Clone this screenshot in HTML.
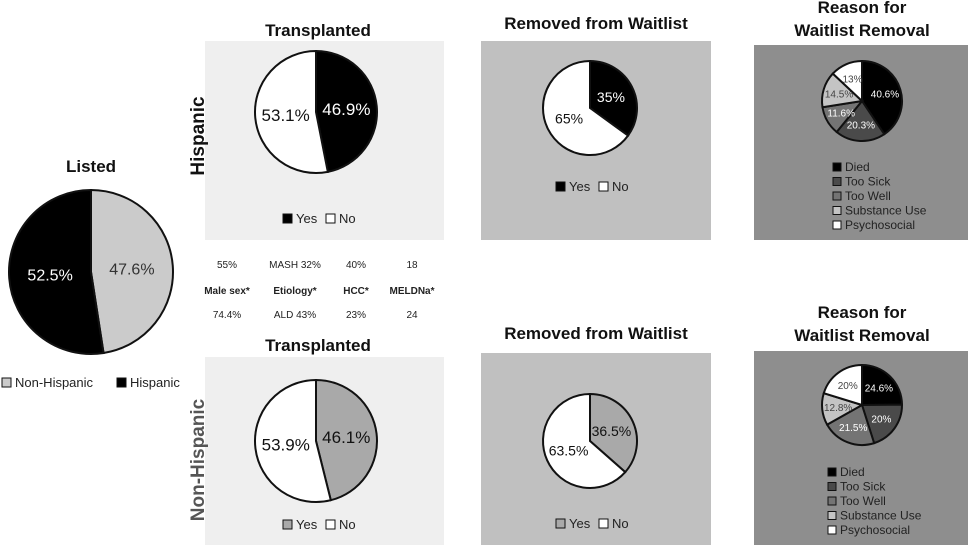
<!DOCTYPE html>
<html><head><meta charset="utf-8"><style>
body{margin:0;width:972px;height:545px;background:#fff;overflow:hidden;font-family:"Liberation Sans",sans-serif}
svg{display:block}
</style></head><body>
<svg id="c" width="972" height="545" viewBox="0 0 972 545">
<rect x="205" y="41" width="239" height="199" fill="#efefef"/>
<rect x="481" y="41" width="230" height="199" fill="#c0c0c0"/>
<rect x="754" y="45" width="214" height="195" fill="#8e8e8e"/>
<rect x="205" y="357" width="239" height="188" fill="#efefef"/>
<rect x="481" y="353" width="230" height="192" fill="#c0c0c0"/>
<rect x="754" y="351" width="214" height="194" fill="#8e8e8e"/>
<g font-weight="bold" font-size="17" text-anchor="middle" fill="#111">
<text x="91" y="172">Listed</text>
<text x="318" y="36">Transplanted</text>
<text x="596" y="29">Removed from Waitlist</text>
<text x="862" y="13">Reason for</text>
<text x="862" y="36">Waitlist Removal</text>
<text x="318" y="351">Transplanted</text>
<text x="596" y="339">Removed from Waitlist</text>
<text x="862" y="318">Reason for</text>
<text x="862" y="341">Waitlist Removal</text>
<text transform="translate(204,136) rotate(-90)" font-size="19">Hispanic</text>
<text transform="translate(204,460) rotate(-90)" font-size="19" fill="#555">Non-Hispanic</text>
</g>
<g font-size="10" text-anchor="middle" fill="#222">
<text x="227" y="268">55%</text>
<text x="295" y="268">MASH 32%</text>
<text x="356" y="268">40%</text>
<text x="412" y="268">18</text>
<g font-weight="bold"><text x="227" y="294">Male sex*</text>
<text x="295" y="294">Etiology*</text>
<text x="356" y="294">HCC*</text>
<text x="412" y="294">MELDNa*</text></g>
<text x="227" y="318">74.4%</text>
<text x="295" y="318">ALD  43%</text>
<text x="356" y="318">23%</text>
<text x="412" y="318">24</text>
</g>
</svg>
<script>
const listedValues=[47.6,52.5];
const transHispValues=[46.9,53.1];
const transNonValues=[46.1,53.9];
const remHispValues=[35,65];
const remNonValues=[36.5,63.5];
const reasonCats=["Died","Too Sick","Too Well","Substance Use","Psychosocial"];
const reasonHispValues=[40.6,20.3,11.6,14.5,13];
const reasonNonValues=[24.6,20,21.5,12.8,20];
const svg=document.getElementById('c');
const NS='http://www.w3.org/2000/svg';
function mk(t,a){const e=document.createElementNS(NS,t);for(const k in a)e.setAttribute(k,a[k]);svg.appendChild(e);return e;}
function pie(name,cx,cy,r,vals,labels,colors,textColors,fs,lr){
  const tot=vals.reduce((a,b)=>a+b,0);let a0=-Math.PI/2;
  vals.forEach((v,i)=>{
    const a1=a0+v/tot*2*Math.PI;
    const x0=cx+r*Math.cos(a0),y0=cy+r*Math.sin(a0),x1=cx+r*Math.cos(a1),y1=cy+r*Math.sin(a1);
    const p=mk('path',{d:`M${cx},${cy}L${x0},${y0}A${r},${r} 0 ${a1-a0>Math.PI?1:0} 1 ${x1},${y1}Z`,fill:colors[i],stroke:'#111','stroke-width':2});
    
    
    const am=(a0+a1)/2;
    const t=mk('text',{x:cx+r*lr*Math.cos(am),y:cy+r*lr*Math.sin(am)+fs*0.35,'text-anchor':'middle','font-size':fs,fill:textColors[i]});
    t.textContent=labels[i]+'%';
    
    
    a0=a1;
  });
}
function leg(name,x,y,color,label,fs,sz){
  const r=mk('rect',{x:x,y:y-sz+1,width:sz,height:sz,fill:color,stroke:'#111','stroke-width':1});
  
  
  const t=mk('text',{x:x+sz+4,y:y+1,'font-size':fs,fill:'#222'});t.textContent=label;
  
  
}
pie('listed',91,272,82,listedValues,listedValues,['#cbcbcb','#000'],['#333','#fff'],16,0.5);
leg('legend-nonhispanic',2,386,'#cbcbcb','Non-Hispanic',13,9);
leg('legend-hispanic',117,386,'#000','Hispanic',13,9);
pie('transplanted-hisp',316,112,61,transHispValues,transHispValues,['#000','#fff'],['#fff','#111'],17,0.5);
leg('trans-hisp-legend-yes',283,222,'#000','Yes',13,9);leg('trans-hisp-legend-no',326,222,'#fff','No',13,9);
pie('transplanted-non',316,441,61,transNonValues,transNonValues,['#a9a9a9','#fff'],['#111','#111'],17,0.5);
leg('trans-non-legend-yes',283,528,'#a9a9a9','Yes',13,9);leg('trans-non-legend-no',326,528,'#fff','No',13,9);
pie('removed-hisp',590,108,47,remHispValues,remHispValues,['#000','#fff'],['#fff','#111'],14,0.5);
leg('rem-hisp-legend-yes',556,190,'#000','Yes',13,9);leg('rem-hisp-legend-no',599,190,'#fff','No',13,9);
pie('removed-non',590,441,47,remNonValues,remNonValues,['#a9a9a9','#fff'],['#111','#111'],14,0.5);
leg('rem-non-legend-yes',556,527,'#a9a9a9','Yes',13,9);leg('rem-non-legend-no',599,527,'#fff','No',13,9);
const rc=['#000','#4a4a4a','#747474','#c4c4c4','#fff'];
const rt=['#fff','#fff','#fff','#444','#444'];
pie('reason-hisp',862,101,40,reasonHispValues,reasonHispValues,rc,rt,10,0.6);
pie('reason-non',862,405,40,reasonNonValues,reasonNonValues,rc,rt,10,0.6);
reasonCats.forEach((c,i)=>{
  leg('reason-hisp-legend-'+i,833,170+i*14.5,rc[i],c,12,8);
  leg('reason-non-legend-'+i,828,475+i*14.5,rc[i],c,12,8);
});
</script>
</body></html>
